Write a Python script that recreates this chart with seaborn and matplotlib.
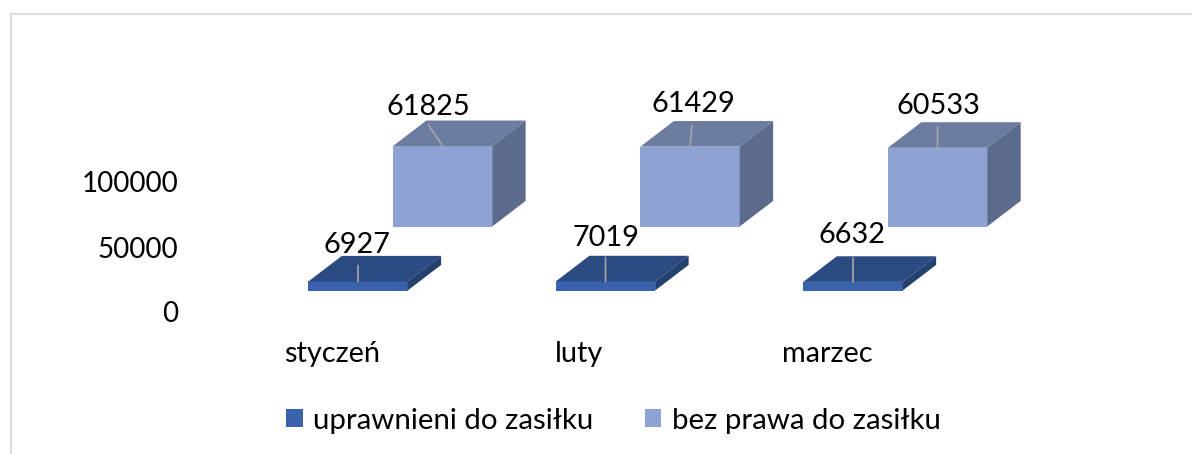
import matplotlib
matplotlib.use("Agg")
import matplotlib.pyplot as plt
import numpy as np
import pandas as pd
import seaborn as sns
from matplotlib.lines import Line2D
from matplotlib.patches import Patch, Polygon

months = ["styczeń", "luty", "marzec"]
series_names = ["uprawnieni do zasiłku", "bez prawa do zasiłku"]
uprawnieni = [6927, 7019, 6632]
bez_prawa = [61825, 61429, 60533]
yticks = [0, 50000, 100000]

W, H = 1192, 454
AX_LEFT, AX_BOTTOM = 183, 340   # pixels
MONTH_PX = 247.5                # pixels between months
UNIT_PX = 0.0013                # pixels per person on the value axis
ZERO_PX = 312                   # pixel row of the 0 tick
FIRST_PX = 358                  # pixel column of the first front bar


def px_x(n):
    return n / MONTH_PX


def px_y(n):
    return n / UNIT_PX


# the two series sit on separate floors of the fake 3d chart
front = pd.DataFrame({"pos": np.arange(3.0), "value": uprawnieni})
back = pd.DataFrame({"pos": np.arange(3.0) + px_x(84.5), "value": bez_prawa})
front_floor = px_y(ZERO_PX - 290.5)
back_floor = px_y(ZERO_PX - 226.5)

sns.set_theme(style="white")
plt.rcParams["font.family"] = ["Lato", "DejaVu Sans"]

fig = plt.figure(figsize=(W / 100, H / 100), dpi=100)
ax = fig.add_axes([AX_LEFT / W, (H - AX_BOTTOM) / H, 1 - AX_LEFT / W, AX_BOTTOM / H])

faces = [
    (back, back_floor, "#8FA2D4", "#6C7CA1", "#5C6A8C"),
    (front, front_floor, "#3A62AC", "#2B4A82", "#24406F"),
]
depth_x, depth_y = px_x(33.5), px_y(25.6)
for df, floor, color, top_c, side_c in faces:
    n_before = len(ax.patches)
    sns.barplot(data=df, x="pos", y="value", native_scale=True, bottom=floor,
                width=99.3 / MONTH_PX, color=color, saturation=1, errorbar=None,
                edgecolor="none", linewidth=0, ax=ax)
    # extrude each bar into a box
    for bar in ax.patches[n_before:3 + n_before]:
        x0, y0 = bar.get_x(), bar.get_y()
        x1, y1 = x0 + bar.get_width(), y0 + bar.get_height()
        ax.add_patch(Polygon([(x0, y1), (x1, y1), (x1 + depth_x, y1 + depth_y), (x0 + depth_x, y1 + depth_y)],
                             facecolor=top_c, edgecolor="none"))
        ax.add_patch(Polygon([(x1, y0), (x1, y1), (x1 + depth_x, y1 + depth_y), (x1 + depth_x, y0 + depth_y)],
                             facecolor=side_c, edgecolor="none"))

# data labels with leader lines, offsets in pixels from the top centre of the bar
back_leader = [(-14, 21), (2, 21), (0, 21)]
back_label = [(-14, 39), (3, 43), (1, 42)]
front_leader = [(0, 16), (0, 24), (0, 24)]
front_label = [(-1, 36), (0, 43), (-1, 47)]
for df, floor, leaders, labels in [(back, back_floor, back_leader, back_label),
                                   (front, front_floor, front_leader, front_label)]:
    for i, row in df.iterrows():
        top = (row["pos"], floor + row["value"])
        ax.annotate("", xy=top, xycoords="data", xytext=leaders[i], textcoords="offset pixels",
                    arrowprops=dict(arrowstyle="-", color="#A6A6A6", lw=1.2, shrinkA=0, shrinkB=0))
        ax.annotate(str(int(row["value"])), xy=top, xycoords="data", xytext=labels[i],
                    textcoords="offset pixels", ha="center", va="center", fontsize=20.8, color="black")

ax.set_xlim(-(FIRST_PX - AX_LEFT) / MONTH_PX, (W - FIRST_PX) / MONTH_PX)
ax.set_ylim(px_y(ZERO_PX - AX_BOTTOM), px_y(ZERO_PX))
ax.set_xticks(np.arange(3) - px_x(26))
ax.set_xticklabels(months)
ax.set_yticks(yticks)
ax.set_yticklabels([str(t) for t in yticks])
ax.tick_params(axis="x", length=0, labelsize=20.8, labelcolor="black", pad=0.5)
ax.tick_params(axis="y", length=0, labelsize=20, labelcolor="black", pad=3.5)
ax.set_xlabel("")
ax.set_ylabel("")
ax.patch.set_alpha(0)
sns.despine(ax=ax, left=True, bottom=True)

handles = [Patch(facecolor="#3A62AC", edgecolor="none", label=series_names[0]),
           Patch(facecolor="#8FA2D4", edgecolor="none", label=series_names[1])]
fig.legend(handles=handles, loc="center", bbox_to_anchor=(613.5 / W, 1 - 420.5 / H), ncol=2, frameon=False,
           fontsize=21.2, handlelength=0.55, handleheight=0.55, handletextpad=0.37, columnspacing=1.73,
           labelcolor="black")

# chart frame, only top and left show in the crop
frame = dict(color="#DCDCDC", lw=1.5, transform=fig.transFigure)
fig.add_artist(Line2D([10.5 / W, 1], [1 - 14 / H, 1 - 14 / H], **frame))
fig.add_artist(Line2D([10.5 / W, 10.5 / W], [0, 1 - 14 / H], **frame))

fig.savefig("out.png", dpi=100)
